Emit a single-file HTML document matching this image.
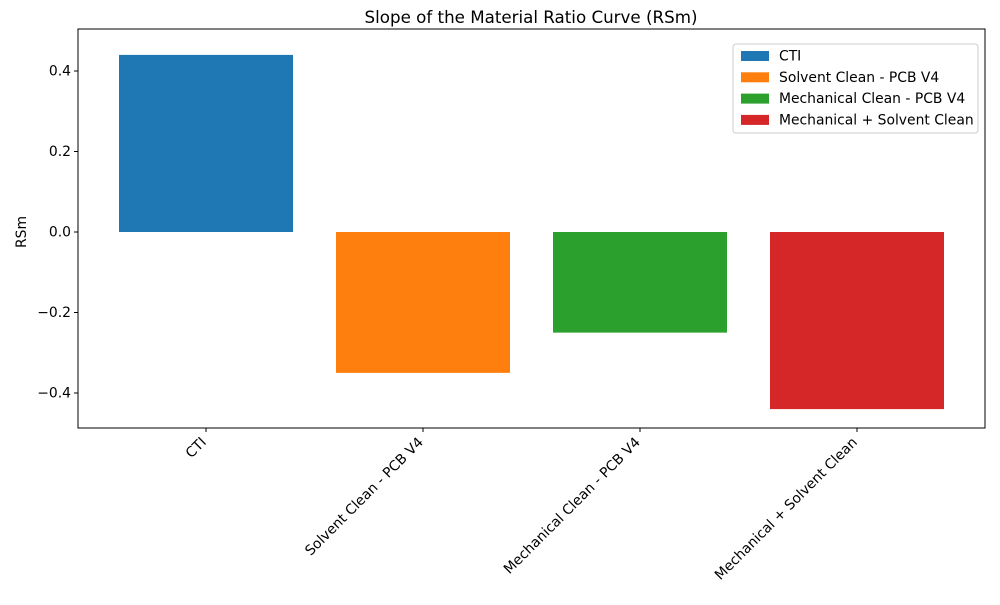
<!DOCTYPE html>
<html><head><meta charset="utf-8"><style>body{margin:0;background:#fff}svg{font-family:"DejaVu Sans","Liberation Sans",sans-serif}</style></head>
<body>
<svg id="chart" width="1000" height="600">
<rect width="1000" height="600" fill="#fff"/>
<text x="531" y="23" font-size="16.7" text-anchor="middle">Slope of the Material Ratio Curve (RSm)</text>
<text transform="translate(26,232) rotate(-90)" font-size="13.9" text-anchor="middle">RSm</text>
<g id="bars"></g><g id="yticks"></g><g id="xticks"></g>
<rect x="78" y="29" width="907" height="399" fill="none" stroke="#000" stroke-width="1"/>
<g id="legend"></g>
</svg>
<script>
const categories=["CTI","Solvent Clean - PCB V4","Mechanical Clean - PCB V4","Mechanical + Solvent Clean"];
const values=[0.44,-0.35,-0.25,-0.44];
const colors=["#1f77b4","#ff7f0e","#2ca02c","#d62728"];
const yTicks=[-0.4,-0.2,0.0,0.2,0.4];
const yTickLabels=["\u22120.4","\u22120.2","0.0","0.2","0.4"];
const ns="http://www.w3.org/2000/svg";
const y=v=>232-v*402.5;
const x=i=>206+i*217;
const bw=174;
function mk(t,a,p){const e=document.createElementNS(ns,t);for(const k in a)e.setAttribute(k,a[k]);p.appendChild(e);return e;}
const bars=document.getElementById('bars');
values.forEach((v,i)=>{const r=mk('rect',{x:x(i)-bw/2,y:Math.min(y(v),y(0)),width:bw,height:Math.abs(y(v)-y(0)),fill:colors[i]},bars);

});
const yt=document.getElementById('yticks');
yTicks.forEach((v,i)=>{const l=mk('line',{x1:74,x2:78,y1:y(v),y2:y(v),stroke:'#000'},yt);


const t=mk('text',{x:71,y:y(v)+4.5,'font-size':13.9,'text-anchor':'end'},yt);t.textContent=yTickLabels[i];

});
const xt=document.getElementById('xticks');
categories.forEach((c,i)=>{const l=mk('line',{x1:x(i),x2:x(i),y1:428,y2:432,stroke:'#000'},xt);


const t=mk('text',{transform:`translate(${x(i)+1},${443}) rotate(-45)`,'font-size':13.9,'text-anchor':'end'},xt);t.textContent=c;

});
const lg=document.getElementById('legend');
const box=mk('rect',{x:733,y:44,width:245,height:89,rx:3,fill:'#fff',stroke:'#ccc'},lg);


categories.forEach((c,i)=>{const yy=56+i*21.3;
const s=mk('rect',{x:741,y:yy-5,width:28,height:10,fill:colors[i]},lg);


const t=mk('text',{x:779,y:yy+4.5,'font-size':13.9},lg);t.textContent=c;

});
</script>
</body></html>
